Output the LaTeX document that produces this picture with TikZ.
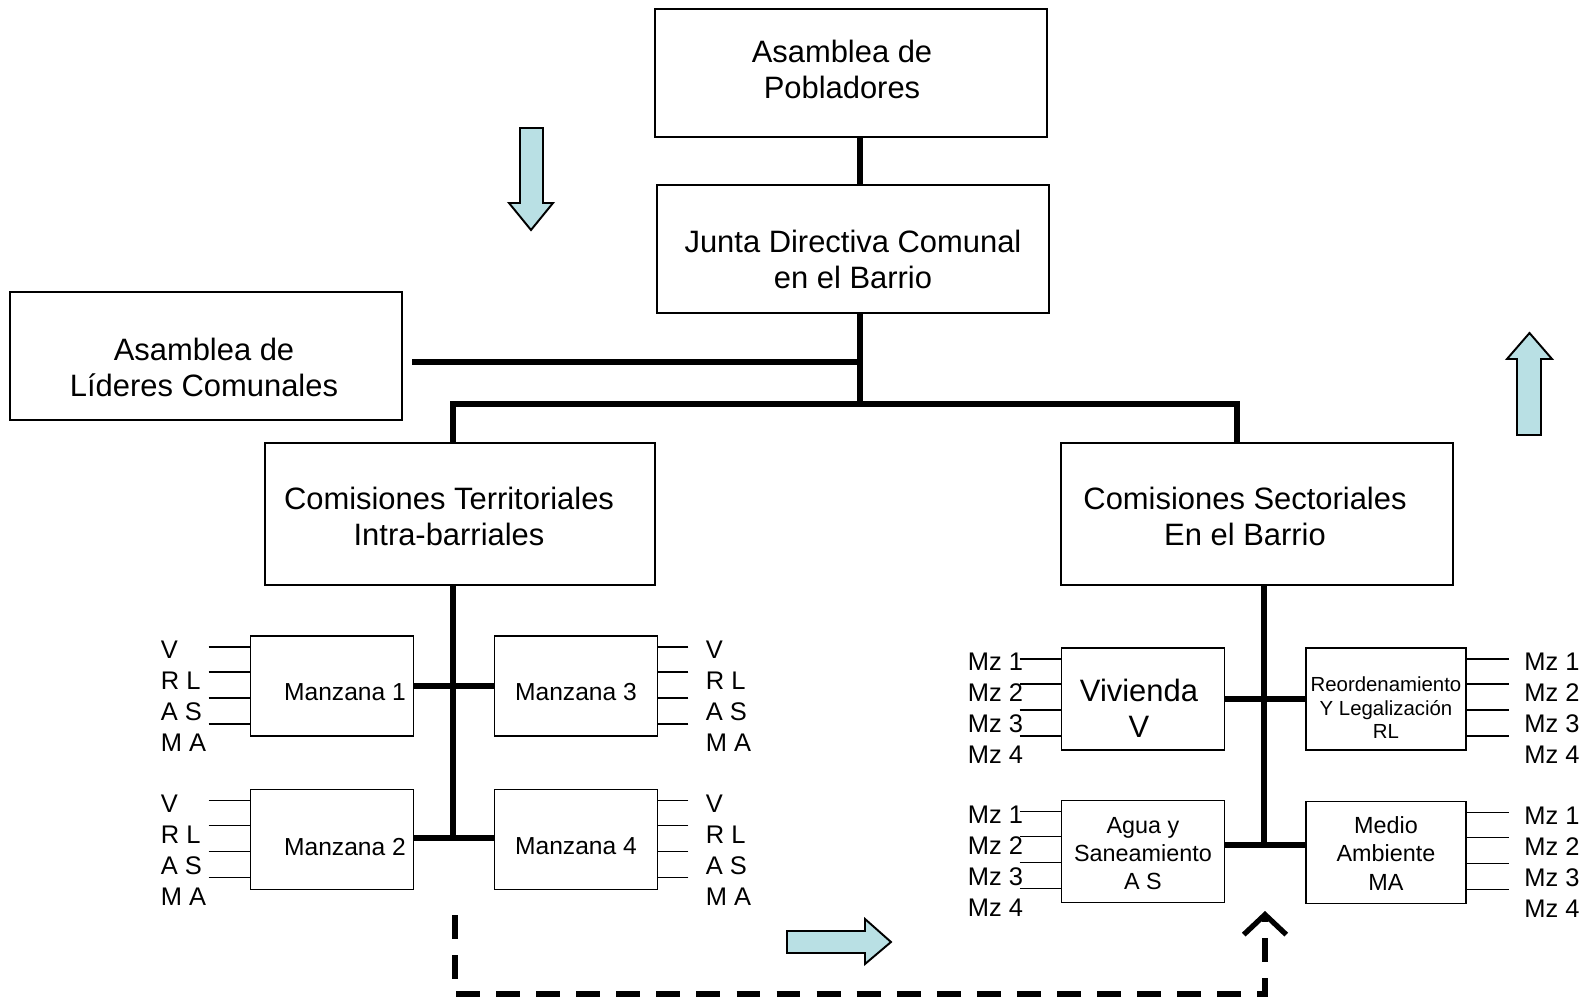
\documentclass[tikz,border=0pt]{standalone}
\usepackage{fontspec}
\setmainfont{Liberation Sans}
\usetikzlibrary{calc,arrows.meta}

\definecolor{arrowblue}{RGB}{185,224,228}

\tikzset{
  box/.style={draw, line width=1.1pt, inner sep=0pt},
  txt/.style={align=center, inner sep=0pt, font=\fontsize{17.6}{20.5}\selectfont},
  link/.style={line width=3.2pt},
  tick/.style={line width=0.85pt},
  lab/.style={anchor=west, inner sep=0pt, font=\fontsize{14.5}{17}\selectfont},
  fatarrow/.style={draw, fill=arrowblue, line width=1.1pt},
  flow/.style={line width=3.4pt, dash pattern=on 13.6pt off 9.2pt}
}

\begin{document}
\begin{tikzpicture}[x=0.02cm, y=-0.02cm]
\useasboundingbox (0,0) rectangle (1587,997);

% ---- Top levels ----
\node[box, minimum width=7.84cm, minimum height=2.56cm] (pobl) at (851,73) {};
\node[txt] (pobl-t) at ($(pobl)+(-9,-4)$) {Asamblea de\\Pobladores};
\node[box, minimum width=7.84cm, minimum height=2.56cm] (junta) at (853,249) {};
\node[txt] (junta-t) at ($(junta)+(0,10)$) {Junta Directiva Comunal\\en el Barrio};
\node[box, minimum width=7.86cm, minimum height=2.56cm] (lider) at (206,356) {};
\node[txt] (lider-t) at ($(lider)+(-2,11)$) {Asamblea de\\Líderes Comunales};

% ---- Commissions ----
\node[box, minimum width=7.8cm, minimum height=2.84cm] (terr) at (460,514) {};
\node[txt] (terr-t) at ($(terr)+(-11,2)$) {Comisiones Territoriales\\Intra-barriales};
\node[box, minimum width=7.84cm, minimum height=2.84cm] (sect) at (1257,514) {};
\node[txt] (sect-t) at ($(sect)+(-12,2)$) {Comisiones Sectoriales\\En el Barrio};

% ---- Blocks (manzanas) ----
\tikzset{mzbox/.style={box, minimum width=3.26cm, minimum height=2.0cm},
         mztxt/.style={txt, font=\fontsize{14}{17}\selectfont}}
\node[mzbox] (mz1) at (332,686)   {};
\node[mzbox] (mz3) at (576,686)   {};
\node[mzbox] (mz2) at (332,839.5) {};
\node[mzbox] (mz4) at (576,839.5) {};
\node[mztxt] (mz1-t) at ($(mz1)+(13,6)$) {Manzana 1};
\node[mztxt] (mz3-t) at ($(mz3)+(0,6)$)  {Manzana 3};
\node[mztxt] (mz2-t) at ($(mz2)+(13,8)$) {Manzana 2};
\node[mztxt] (mz4-t) at ($(mz4)+(0,7)$)  {Manzana 4};

% ---- Sector commissions ----
\tikzset{secbox/.style={box, minimum width=3.26cm, minimum height=2.04cm}}
\node[secbox] (viv)   at (1143,699) {};
\node[secbox, minimum width=3.2cm] (reord) at (1386,699) {};
\node[secbox] (agua)  at (1143,851.5) {};
\node[secbox, minimum width=3.2cm] (medio) at (1386,852.5) {};
\node[txt] (viv-t) at ($(viv)+(-4,9)$) {Vivienda\\V};
\node[txt, font=\fontsize{11.6}{13.4}\selectfont] (reord-t) at ($(reord)+(0,9)$)
  {Reordenamiento\\Y Legalización\\RL};
\node[txt, font=\fontsize{13.3}{16}\selectfont] (agua-t) at ($(agua)+(0,2)$)
  {Agua y\\Saneamiento\\A S};
\node[txt, font=\fontsize{13.3}{16}\selectfont] (medio-t) at ($(medio)+(0,1)$)
  {Medio\\Ambiente\\MA};

% ---- Tree connectors ----
\coordinate (hub) at (860,404);
\coordinate (lj)  at (860,362);
\coordinate (tl)  at (453,404);
\coordinate (tr)  at (1237,404);
\coordinate (tt)  at (453,838);
\coordinate (st)  at (1264,845);

\draw[link] (pobl.south -| hub) -- (junta.north -| hub);
\draw[link] (junta.south -| hub) -- (hub);
\draw[link] ([xshift=5pt]lider.east |- lj) -- (lj);
\draw[link] (tl |- terr.north) -- (tl) -- (tr) -- (tr |- sect.north);

\draw[link] (tt |- terr.south) -- (tt);
\draw[link] (mz1.east) -- (mz3.west);
\draw[link] (mz2.east |- tt) -- (mz4.west |- tt);

\draw[link] (st |- sect.south) -- (st);
\draw[link] (viv.east) -- (reord.west);
\draw[link] (agua.east |- st) -- (medio.west |- st);

% ---- Side tabs ----
\foreach \b/\c/\sx/\lx in {mz1/north west/-41/-89, mz2/north west/-41/-89,
                            mz3/north east/30/47,  mz4/north east/30/47}
  \foreach \t/\ly/\ty [count=\i] in {V/12/15, R L/37/46, A S/63/77, M A/89/108}{
    \draw[tick] ($(\b.\c)+(\sx,\ly)$) -- ($(\b.\c)+(0,\ly)$);
    \node[lab] (\b-\i) at ($(\b.\c)+(\lx,\ty)$) {\t};
  }

\foreach \b/\c/\sx/\lx in {viv/north west/-41/-93, agua/north west/-41/-93,
                            reord/north east/42/57, medio/north east/42/57}
  \foreach \t/\ly/\ty [count=\i] in {Mz 1/12/15, Mz 2/37/46, Mz 3/63/77, Mz 4/89/108}{
    \draw[tick] ($(\b.\c)+(\sx,\ly)$) -- ($(\b.\c)+(0,\ly)$);
    \node[lab] (\b-\i) at ($(\b.\c)+(\lx,\ty)$) {\t};
  }

% ---- Block arrows ----
\draw[fatarrow] (520,128) -- (543,128) -- (543,203) -- (553,203) -- (531,230)
  -- (509,203) -- (520,203) -- cycle;
\draw[fatarrow] (1517,435) -- (1541,435) -- (1541,359) -- (1552,359) -- (1529.5,333)
  -- (1507,359) -- (1517,359) -- cycle;
\draw[fatarrow] (787,931) -- (865,931) -- (865,919) -- (891,942) -- (865,964)
  -- (865,953) -- (787,953) -- cycle;

% ---- Dashed feedback ----
\coordinate (dstart) at (455,915);
\coordinate (dl)     at (455,994);
\coordinate (dr)     at (1265,994);
\coordinate (dend)   at (1265,911);
\draw[flow, -{Straight Barb[length=0.4cm, width=0.85cm, line width=3pt]}]
  (dstart) -- (dl) -- (dr) -- (dend);

\end{tikzpicture}
\end{document}
